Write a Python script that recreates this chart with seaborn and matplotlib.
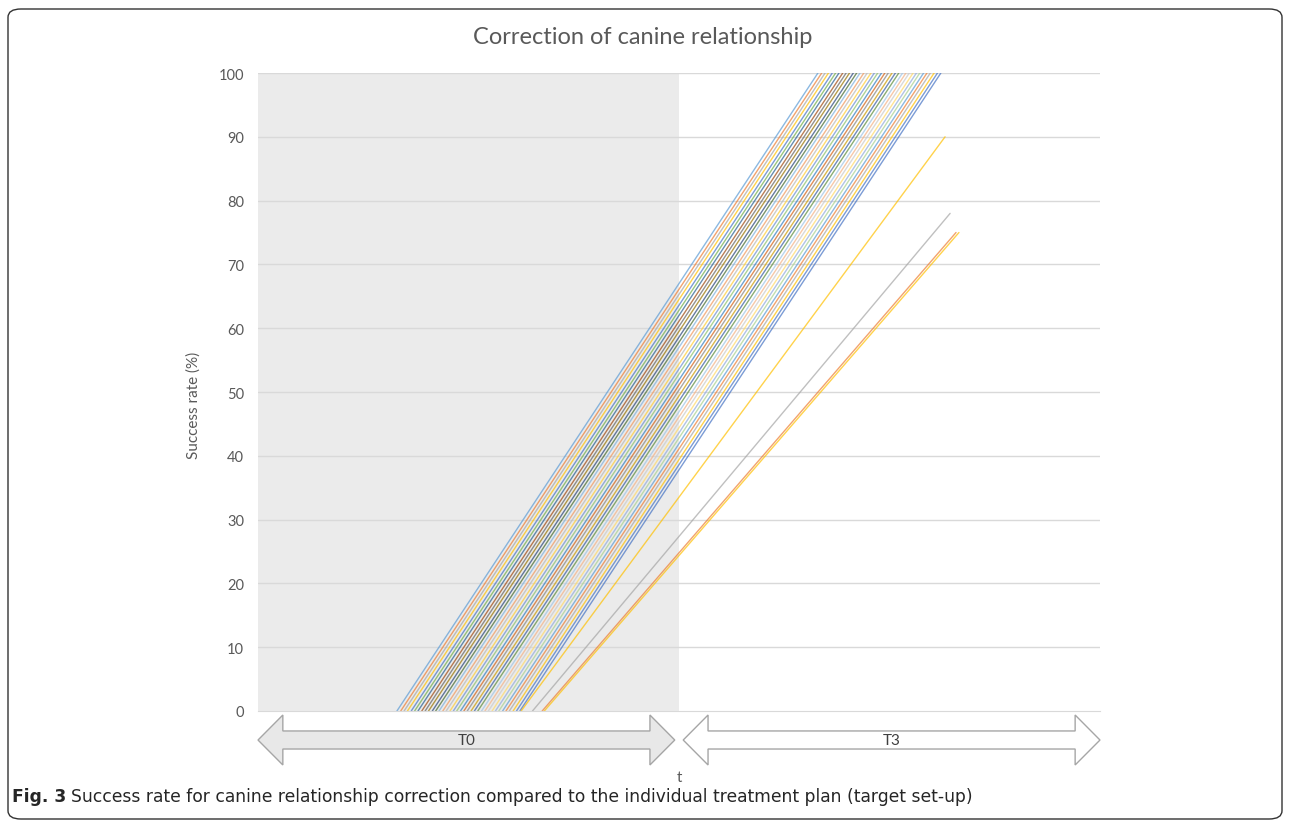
# Correction of canine relationship - success rate lines
import pandas as pd
import matplotlib
matplotlib.use("Agg")
import matplotlib.pyplot as plt
import matplotlib.transforms as mtransforms
from matplotlib.patches import Polygon, FancyBboxPatch
import seaborn as sns

# x in treatment periods: 0-1 = T0, 1-2 = T3
line_start = [0.330, 0.339, 0.347, 0.355, 0.364, 0.372, 0.380, 0.389, 0.397,
              0.405, 0.414, 0.422, 0.430, 0.439, 0.447, 0.456, 0.464, 0.472,
              0.481, 0.489, 0.497, 0.506, 0.514, 0.522, 0.531, 0.539, 0.547,
              0.556, 0.564, 0.572, 0.581, 0.589, 0.597, 0.606, 0.614, 0.622,
              0.625, 0.652, 0.675, 0.680]
line_end = [1.330, 1.339, 1.347, 1.355, 1.364, 1.372, 1.380, 1.389, 1.397,
            1.405, 1.414, 1.422, 1.430, 1.439, 1.447, 1.456, 1.464, 1.472,
            1.481, 1.489, 1.497, 1.506, 1.514, 1.522, 1.531, 1.539, 1.547,
            1.556, 1.564, 1.572, 1.581, 1.589, 1.597, 1.606, 1.614, 1.622,
            1.632, 1.644, 1.658, 1.665]
end_value = [100] * 36 + [90, 78, 75, 75]

colors = ["#5B9BD5", "#ED7D31", "#A5A5A5", "#FFC000", "#4472C4", "#70AD47",
          "#255E91", "#9E480E", "#636363", "#997300", "#264478", "#43682B",
          "#7CAFDD", "#F1975A", "#B7B7B7", "#FFCD33", "#698ED0", "#8CC168",
          "#327DC2", "#D26012", "#848484", "#CC9A00", "#335AA1", "#5A8A39",
          "#9DC3E6", "#F4B183", "#C9C9C9", "#FFD966", "#8FAADC", "#A9D18E",
          "#5B9BD5", "#ED7D31", "#A5A5A5", "#FFC000", "#4472C4", "#4472C4",
          "#FFC000", "#A5A5A5", "#ED7D31", "#FFC000"]

y_ticks = list(range(0, 101, 10))
period_labels = ["T0", "T3"]

rows = []
for i, (s, e, v) in enumerate(zip(line_start, line_end, end_value)):
    rows.append({"series": i, "t": s, "rate": 0})
    rows.append({"series": i, "t": e, "rate": v})
df = pd.DataFrame(rows)

sns.set_style("white")
plt.rcParams["font.family"] = ["Lato", "DejaVu Sans"]

fig = plt.figure(figsize=(12.9, 8.28), dpi=100)
ax = fig.add_axes([0.2, 0.1401, 0.6527, 0.7705])

ax.axvspan(0, 1, color="#EBEBEB", zorder=0, lw=0)
for yv in y_ticks[1:]:
    ax.axhline(yv, color="#D9D9D9", lw=1, zorder=0.5)

sns.lineplot(data=df, x="t", y="rate", hue="series", palette=colors,
             estimator=None, legend=False, lw=1.0, alpha=0.7, ax=ax, zorder=2)

ax.set_xlim(0, 2)
ax.set_ylim(0, 100)
ax.set_yticks(y_ticks)
ax.set_xticks([0, 1, 2])
ax.set_xticklabels([])
ax.tick_params(axis="x", length=6, color="#D9D9D9", width=1, direction="out")
ax.tick_params(axis="y", length=0, pad=10, labelsize=10.5, labelcolor="#595959")
for side in ["top", "right", "left"]:
    ax.spines[side].set_visible(False)
ax.spines["bottom"].set_color("#D9D9D9")
ax.spines["bottom"].set_zorder(3)
ax.set_xlabel("")
ax.set_ylabel("Success rate (%)", fontsize=11, color="#595959")
ax.yaxis.set_label_coords(-0.0677, 0.48)

# block arrows under the axis (x in data, y in axes fraction)
trans = mtransforms.blended_transform_factory(ax.transData, ax.transAxes)
h = 0.059
c, bt, bb, ht, hb = -0.0455, -0.0313, -0.0596, -0.0063, -0.0846
arrows = [(0.0, 0.99, "#E8E8E8"), (1.01, 2.0, "white")]
for (a, b, fc), lab in zip(arrows, period_labels):
    pts = [(a, c), (a + h, ht), (a + h, bt), (b - h, bt), (b - h, ht), (b, c),
           (b - h, hb), (b - h, bb), (a + h, bb), (a + h, hb)]
    ax.add_patch(Polygon(pts, closed=True, transform=trans, clip_on=False,
                         facecolor=fc, edgecolor="#A6A6A6", lw=1))
    ax.text((a + b) / 2, c, lab, transform=trans, ha="center", va="center",
            fontsize=11, color="#404040")

ax.text(1.0, -0.1034, "t", transform=trans, ha="center", va="center",
        fontsize=11, color="#595959")

fig.text(0.4985, 0.9553, "Correction of canine relationship", ha="center",
         va="center", fontsize=17, color="#595959")

# outer frame and caption
fig.patches.append(FancyBboxPatch((8 / 1290, 8 / 828), 1274 / 1290, 810 / 828,
                                  boxstyle="round,pad=0,rounding_size=0.01",
                                  transform=fig.transFigure, fill=False,
                                  edgecolor="#333333", lw=1))
cap_font = ["Liberation Sans Narrow", "DejaVu Sans"]
t1 = fig.text(12 / 1290, 0.0374, "Fig. 3", ha="left", va="center",
              fontsize=12.3, fontweight="bold", family=cap_font)
fig.canvas.draw()
bb1 = t1.get_window_extent()
fig.text((bb1.x1 + 5) / 1290, 0.0374,
         "Success rate for canine relationship correction compared to the "
         "individual treatment plan (target set-up)",
         ha="left", va="center", fontsize=12.3, family=cap_font)

fig.savefig("out.png", dpi=100)
